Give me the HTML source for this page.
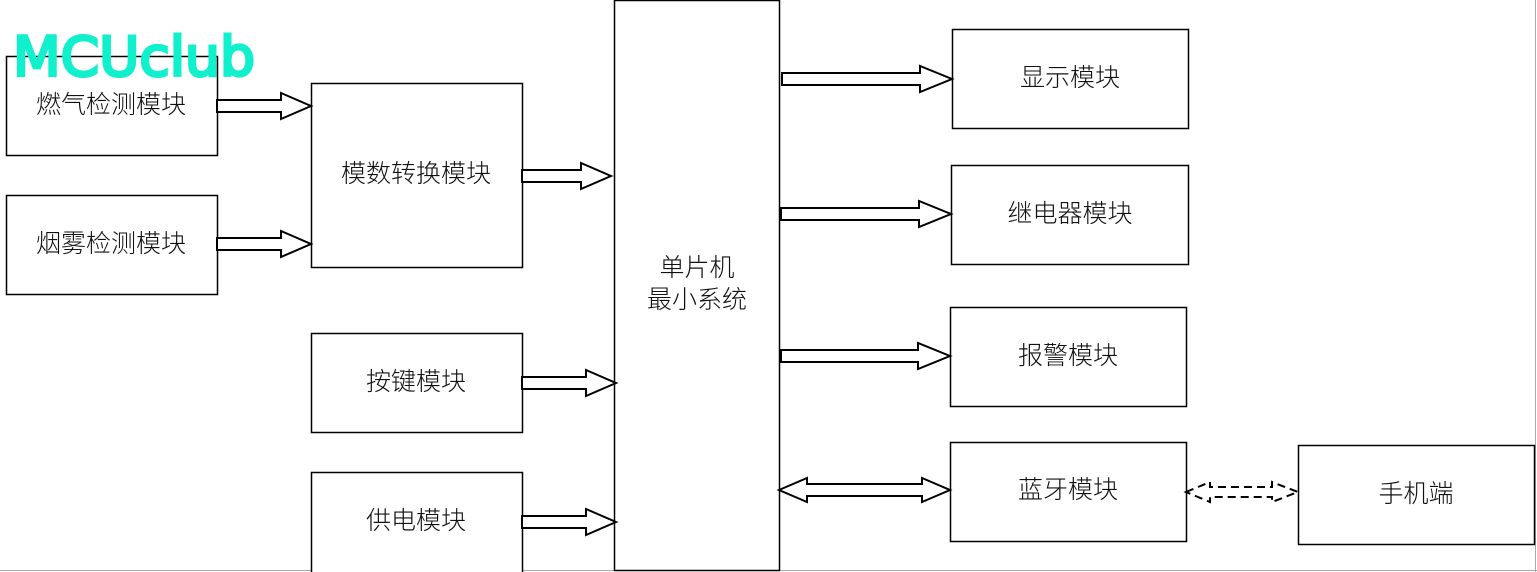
<!DOCTYPE html>
<html><head><meta charset="utf-8"><style>
html,body{margin:0;padding:0;background:#fff;}
svg{display:block}
text{font-family:"Liberation Sans","Noto Sans CJK SC",sans-serif;font-size:25px;font-weight:300;fill:#111;text-anchor:middle;dominant-baseline:central}
</style></head><body>
<svg width="1537" height="572" viewBox="0 0 1537 572" xmlns="http://www.w3.org/2000/svg">
<rect x="0" y="0" width="1537" height="572" fill="#fff"/>
<line x1="1535.5" y1="0" x2="1535.5" y2="572" stroke="#aaa" stroke-width="1"/>
<line x1="0" y1="570.5" x2="1537" y2="570.5" stroke="#aaa" stroke-width="1"/>
<g fill="#fff" stroke="#000" stroke-width="1.5">
<rect x="6.5" y="56.5" width="211" height="99"/>
<rect x="6.5" y="195.5" width="211" height="99"/>
<rect x="311.5" y="83.5" width="211" height="184"/>
<rect x="311.5" y="333.5" width="211" height="99"/>
<rect x="311.5" y="472.5" width="211" height="110"/>
<rect x="614.5" y="0.5" width="165" height="570"/>
<rect x="952.5" y="29.5" width="236" height="99"/>
<rect x="951.5" y="165.5" width="237" height="99"/>
<rect x="950.5" y="307.5" width="236" height="99"/>
<rect x="950.5" y="442.5" width="236" height="99"/>
<rect x="1298.5" y="445.5" width="236" height="99"/>
</g>
<g fill="#fff" stroke="#000" stroke-width="2">
<polygon points="217,100 281,100 281,93 311,106 281,119 281,112 217,112"/>
<polygon points="217,238 281,238 281,231 311,244 281,257 281,250 217,250"/>
<polygon points="522,170 581,170 581,163 611,176 581,189 581,182 522,182"/>
<polygon points="522,377 586,377 586,370 616,383 586,396 586,389 522,389"/>
<polygon points="522,516 586,516 586,509 616,522 586,535 586,528 522,528"/>
<polygon points="782,73 920,73 920,66 952,79 920,92 920,85 782,85"/>
<polygon points="781,208 919,208 919,201 951,214 919,227 919,220 781,220"/>
<polygon points="781,350 918,350 918,343 950,356 918,369 918,362 781,362"/>
<polygon points="779,490 807,478 807,484 922,484 922,478 950,490 922,502 922,496 807,496 807,502"/>
<polygon points="1186,492 1210,482 1210,487 1272,487 1272,482 1298,492 1272,502 1272,497 1210,497 1210,502" stroke-dasharray="8,5"/>
</g>
<text x="111" y="105">燃气检测模块</text>
<text x="111" y="244">烟雾检测模块</text>
<text x="416" y="174">模数转换模块</text>
<text x="416" y="382">按键模块</text>
<text x="416" y="521">供电模块</text>
<text x="697" y="268">单片机</text>
<text x="697" y="300">最小系统</text>
<text x="1070" y="78">显示模块</text>
<text x="1070" y="214">继电器模块</text>
<text x="1068" y="356">报警模块</text>
<text x="1068" y="490">蓝牙模块</text>
<text x="1416" y="494">手机端</text>
<text x="134" y="57" style="font-size:54px;font-weight:normal;fill:#11f0cc;stroke:#11f0cc;stroke-width:3;font-family:'DejaVu Sans',sans-serif" textLength="242" lengthAdjust="spacingAndGlyphs">MCUclub</text>
</svg>
</body></html>
